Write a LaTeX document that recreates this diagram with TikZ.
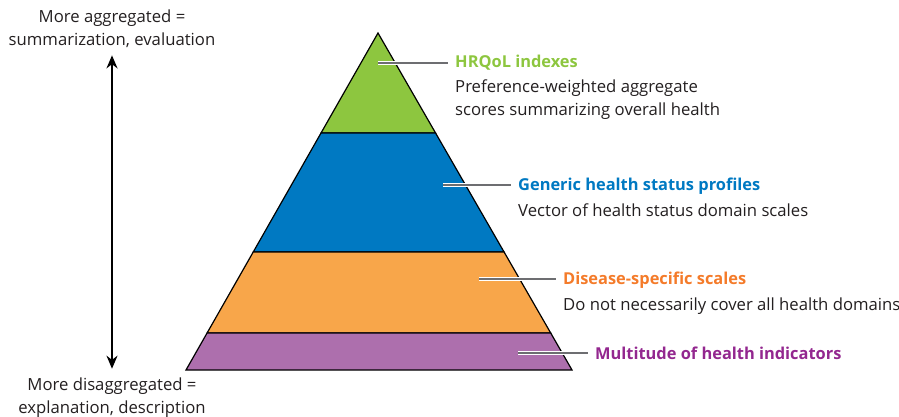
\documentclass[tikz,border=0pt]{standalone}
\usepackage{fontspec}
\setmainfont{Open Sans}
\usetikzlibrary{calc, positioning, arrows.meta}
\definecolor{indexGreen}{HTML}{8DC63F}
\definecolor{profileBlue}{HTML}{0079C2}
\definecolor{scaleOrange}{HTML}{F8A64A}
\definecolor{scaleOrangeText}{HTML}{F47B2A}
\definecolor{indicatorPurple}{HTML}{AD6FAD}
\definecolor{indicatorPurpleText}{HTML}{93278F}
\definecolor{bodyText}{HTML}{231F20}
\definecolor{leaderGray}{HTML}{6D6E71}

\begin{document}
\begin{tikzpicture}[x=1pt, y=-1pt,
    band/.style={draw=black, line width=1.2pt, line join=miter},
    title/.style={inner sep=0pt, anchor=west, font=\fontsize{16.4}{22.5}\selectfont\bfseries},
    desc/.style={inner sep=0pt, align=left, text=bodyText, font=\fontsize{16.7}{22.5}\selectfont},
    sidetext/.style={inner sep=0pt, align=center, text=bodyText, font=\fontsize{16.7}{22.5}\selectfont},
    leader/.style={draw=leaderGray, line width=1.1pt, shorten >=7pt,
        preaction={draw=white, line width=3.6pt, shorten >=7pt}}]
    \useasboundingbox (0,0) rectangle (899,417);

    % pyramid corners and band edges
    \coordinate (apex) at (378,33);
    \coordinate (bl) at (186,370);
    \coordinate (br) at (572,370);
    \coordinate (l1) at ($(apex)!0.2967!(bl)$);
    \coordinate (r1) at ($(apex)!0.2967!(br)$);
    \coordinate (l2) at ($(apex)!0.6499!(bl)$);
    \coordinate (r2) at ($(apex)!0.6499!(br)$);
    \coordinate (l3) at ($(apex)!0.8902!(bl)$);
    \coordinate (r3) at ($(apex)!0.8902!(br)$);

    \filldraw[band, fill=indexGreen] (apex) -- (r1) -- (l1) -- cycle;
    \filldraw[band, fill=profileBlue] (l1) -- (r1) -- (r2) -- (l2) -- cycle;
    \filldraw[band, fill=scaleOrange] (l2) -- (r2) -- (r3) -- (l3) -- cycle;
    \filldraw[band, fill=indicatorPurple] (l3) -- (r3) -- (br) -- (bl) -- cycle;

    % labels on the right
    \node[title, text=indexGreen] (hrqol) at (455,63) {HRQoL indexes};
    \node[desc, below right=9pt and 0pt of hrqol.south west] (hrqolDesc)
        {Preference-weighted aggregate\\scores summarizing overall health};
    \node[title, text=profileBlue] (generic) at (518,186) {Generic health status profiles};
    \node[desc, below right=9pt and 0pt of generic.south west] (genericDesc)
        {Vector of health status domain scales};
    \node[title, text=scaleOrangeText] (disease) at (563,280) {Disease-specific scales};
    \node[desc, below right=9pt and 0pt of disease.south west] (diseaseDesc)
        {Do not necessarily cover all health domains};
    \node[title, text=indicatorPurpleText] (multi) at (595,353) {Multitude of health indicators};

    \coordinate (hrqolPin) at (378,63);
    \coordinate (genericPin) at (443,185);
    \coordinate (diseasePin) at (479,279);
    \coordinate (multiPin) at (518,353);
    \draw[leader] (hrqolPin) -- (hrqolPin -| hrqol.west);
    \draw[leader] (genericPin) -- (genericPin -| generic.west);
    \draw[leader] (diseasePin) -- (diseasePin -| disease.west);
    \draw[leader] (multiPin) -- (multiPin -| multi.west);

    % aggregation axis
    \node[sidetext] (aggr) at (112,28.5) {More aggregated =\\summarization, evaluation};
    \node[sidetext] (disaggr) at (112,397.5) {More disaggregated =\\explanation, description};
    \draw[line width=2pt, {Stealth[length=13pt, width=11pt]}-{Stealth[length=13pt, width=11pt]},
        shorten <=8pt, shorten >=9pt] (aggr.south) -- (disaggr.north);
\end{tikzpicture}
\end{document}
